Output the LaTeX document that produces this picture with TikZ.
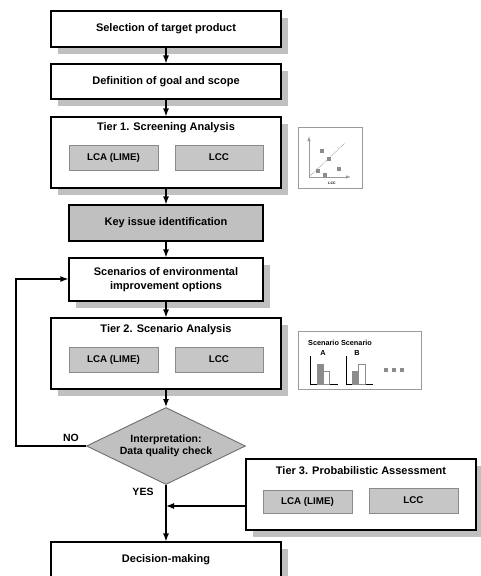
\documentclass[tikz,border=0pt]{standalone}
\usepackage{fontspec}
\setmainfont{Liberation Sans}
\usetikzlibrary{arrows.meta,shapes.geometric,shadows}
\definecolor{shd}{HTML}{C0C0C0}
\definecolor{ifill}{HTML}{C6C6C6}
\definecolor{iborder}{HTML}{8A8A8A}
\definecolor{kfill}{HTML}{C0C0C0}
\definecolor{dborder}{HTML}{6E6E6E}
\definecolor{pborder}{HTML}{9A9A9A}
\definecolor{sq}{HTML}{8C8C8C}
\tikzset{
  mainbox/.style={draw=black, line width=1.2pt, fill=white, inner sep=0pt, align=center,
    font=\bfseries\fontsize{11}{14}\selectfont,
    drop shadow={shadow xshift=7pt, shadow yshift=-7pt, fill=shd, opacity=1}},
  tierbox/.style={draw=black, line width=1.2pt, fill=white, inner sep=0pt,
    drop shadow={shadow xshift=7pt, shadow yshift=-7pt, fill=shd, opacity=1}},
  innerbox/.style={draw=iborder, line width=0.9pt, fill=ifill, inner sep=0pt,
    font=\bfseries\fontsize{9.8}{11}\selectfont},
  titletext/.style={font=\bfseries\fontsize{11}{13}\selectfont, inner sep=0pt},
  keybox/.style={draw=black, line width=1.2pt, fill=kfill, inner sep=0pt,
    font=\bfseries\fontsize{11}{13}\selectfont},
  picbox/.style={draw=pborder, line width=0.9pt, fill=white, inner sep=0pt},
  flow/.style={line width=1.2pt, -{Latex[length=8pt,width=6pt]}},
  ylabel/.style={font=\bfseries\fontsize{10.5}{12}\selectfont, inner sep=0pt},
  dot/.style={fill=sq, minimum size=4pt, inner sep=0pt},
  edot/.style={fill=sq, minimum size=3.5pt, inner sep=0pt},
}
\begin{document}
\begin{tikzpicture}[x=1pt,y=-1pt]
\useasboundingbox (0,0) rectangle (480,576);
% main column
\node[mainbox, minimum width=230pt, minimum height=36pt] (sel) at (166,29) {Selection of target product};
\node[mainbox, minimum width=230pt, minimum height=35pt] (def) at (166,81.5) {Definition of goal and scope};
\node[tierbox, minimum width=230pt, minimum height=71pt] (t1) at (166,152.5) {};
\node[titletext] (t1title) at (166,128) {Tier 1. Screening Analysis};
\node[innerbox, minimum width=89pt, minimum height=25pt] (t1lca) at (113.5,157.5) {LCA (LIME)};
\node[innerbox, minimum width=88pt, minimum height=25pt] (t1lcc) at (219,157.5) {LCC};
\node[keybox, minimum width=194pt, minimum height=36pt] (key) at (166,223) {Key issue identification};
\node[mainbox, minimum width=194pt, minimum height=43pt] (scen) at (166,279.5) {Scenarios of environmental\\improvement options};
\node[tierbox, minimum width=230pt, minimum height=71pt] (t2) at (166,353.5) {};
\node[titletext] (t2title) at (166,330) {Tier 2. Scenario Analysis};
\node[innerbox, minimum width=89pt, minimum height=25pt] (t2lca) at (113.5,359.5) {LCA (LIME)};
\node[innerbox, minimum width=88pt, minimum height=25pt] (t2lcc) at (219,359.5) {LCC};
\node[diamond, draw=dborder, line width=0.9pt, fill=kfill, minimum width=159pt, minimum height=77pt, aspect=2.06, inner sep=0pt, align=center, font=\bfseries\fontsize{10.5}{12.5}\selectfont] (dia) at (166,446) {Interpretation:\\Data quality check};
\node[tierbox, minimum width=230pt, minimum height=71pt] (t3) at (361,494.5) {};
\node[titletext] (t3title) at (361,471) {Tier 3. Probabilistic Assessment};
\node[innerbox, minimum width=89pt, minimum height=23pt] (t3lca) at (307.5,501.5) {LCA (LIME)};
\node[innerbox, minimum width=89pt, minimum height=25pt] (t3lcc) at (413.5,500.5) {LCC};
\node[mainbox, minimum width=230pt, minimum height=36pt] (dec) at (166,560) {Decision-making};
% labels
\node[ylabel] (no) at (71,438) {NO};
\node[ylabel] (yes) at (143,492) {YES};
% connectors
\draw[flow] (sel) -- (def);
\draw[flow] (def) -- (t1);
\draw[flow] (t1) -- (key);
\draw[flow] (key) -- (scen);
\draw[flow] (scen) -- (t2);
\draw[flow] (t2) -- (dia);
\draw[flow] (dia.south) -- (dec.north);
\coordinate (fbl) at (16,446);
\coordinate (fbt) at (16,279);
\draw[flow] (dia.west) -- (fbl) -- (fbt) -- (scen.west |- fbt);
\coordinate (join) at (166,506);
\draw[flow] (t3.west |- join) -- (join);
% scatter picture
\node[picbox, minimum width=64pt, minimum height=61pt] (scat) at (330,157.5) {};
\coordinate (so) at (309,177);
\coordinate (sy) at (309,136);
\coordinate (sx) at (351,177);
\draw[draw=pborder, line width=0.8pt, -{Latex[length=5pt,width=3.5pt]}] (so) -- (sy);
\draw[draw=pborder, line width=0.8pt, -{Latex[length=5pt,width=3.5pt]}] (so) -- (sx);
\coordinate (dg1) at (310,176);
\coordinate (dg2) at (345,143);
\draw[draw=sq, line width=0.7pt, densely dotted] (dg1) -- (dg2);
\node[dot] (d1) at (322,151) {};
\node[dot] (d2) at (329,159) {};
\node[dot] (d3) at (318,171) {};
\node[dot] (d4) at (325,175) {};
\node[dot] (d5) at (339,169) {};
\node[font=\bfseries\fontsize{3.5}{4}\selectfont, inner sep=0pt] (lccl) at (332,183) {LCC};
% scenario picture
\node[picbox, minimum width=123pt, minimum height=58pt] (scbox) at (359.5,360) {};
\node[font=\bfseries\fontsize{7.3}{8}\selectfont, inner sep=0pt] (sctext) at (340,343) {Scenario Scenario};
\node[font=\bfseries\fontsize{7.3}{8}\selectfont, inner sep=0pt] (la) at (323,352.5) {A};
\node[font=\bfseries\fontsize{7.3}{8}\selectfont, inner sep=0pt] (lb) at (357,352.5) {B};
\coordinate (aTop) at (310,356);
\coordinate (aO) at (310,384);
\coordinate (aR) at (338,384);
\draw[line width=0.8pt] (aTop) -- (aO) -- (aR);
\draw[fill=sq, draw=sq] (317,384) rectangle (323,364);
\draw[fill=white, draw=sq, line width=0.7pt] (323,384) rectangle (329,371);
\coordinate (bTop) at (346,356);
\coordinate (bO) at (346,384);
\coordinate (bR) at (373,384);
\draw[line width=0.8pt] (bTop) -- (bO) -- (bR);
\draw[fill=sq, draw=sq] (352,384) rectangle (358,371);
\draw[fill=white, draw=sq, line width=0.7pt] (358,384) rectangle (365,364);
\node[edot] (e1) at (386,370) {};
\node[edot] (e2) at (394,370) {};
\node[edot] (e3) at (402,370) {};
\end{tikzpicture}
\end{document}
